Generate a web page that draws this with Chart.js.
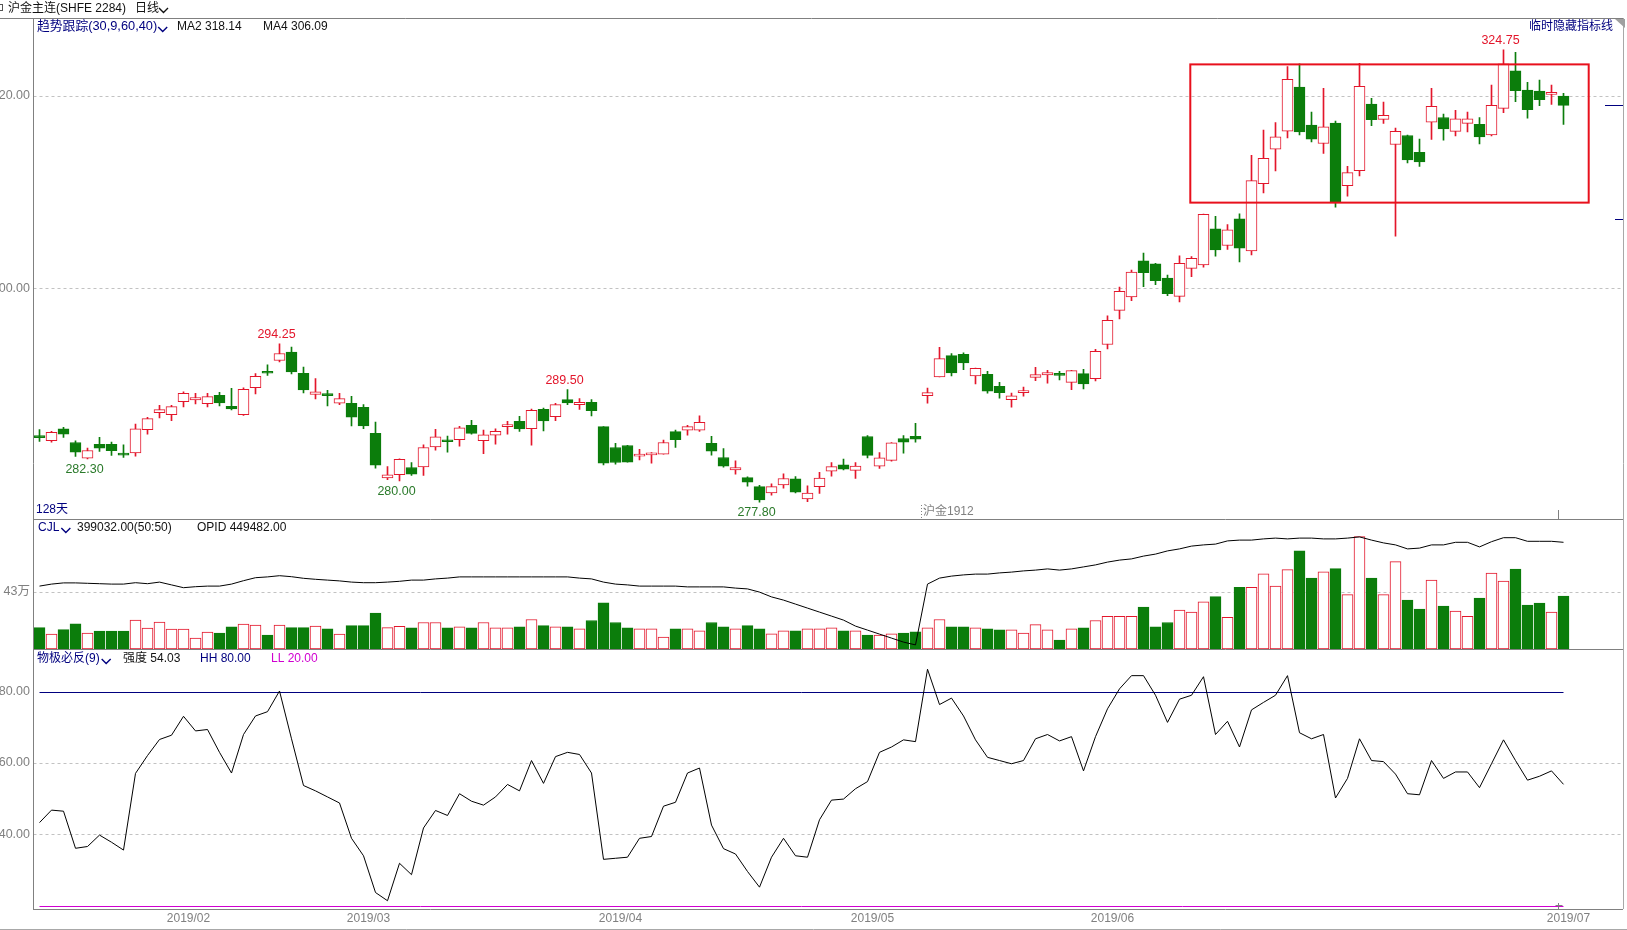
<!DOCTYPE html>
<html>
<head>
<meta charset="utf-8">
<title>沪金主连 日线</title>
<script src="https://cdn.jsdelivr.net/npm/chart.js@4.4.1/dist/chart.umd.min.js"></script>
<style>
  html, body { margin: 0; padding: 0; background: #fff; overflow: hidden; }
  #wrap { position: relative; width: 1627px; height: 930px; }
</style>
</head>
<body>
<div id="wrap"><canvas id="kline" width="1627" height="930"></canvas></div>
<script>
// 日线 OHLC, 128 根
var opens = [284.6,284.18,285.43,284.0,282.37,283.8,283.8,282.83,282.93,285.33,287.1,286.89,288.24,288.42,288.03,288.9,287.76,286.89,289.7,291.4,
  292.51,293.38,291.19,289.0,289.0,288.07,288.07,287.65,284.94,280.32,280.67,281.4,281.47,283.55,284.25,284.28,285.78,284.18,284.77,285.64,
  286.19,285.43,287.44,286.68,288.45,287.93,288.17,285.64,283.48,283.69,282.58,282.72,282.79,285.12,285.29,285.29,283.9,282.44,281.16,280.36,
  279.42,278.76,279.6,280.22,278.14,279.41,281.01,281.67,281.11,284.62,281.53,282.15,284.41,284.65,288.85,290.8,293.02,293.16,290.9,291.08,
  289.83,288.44,289.17,290.76,291.01,291.11,290.24,291.15,290.62,294.17,297.71,299.1,302.85,302.54,301.08,299.17,302.08,302.43,306.18,304.45,
  307.22,303.89,310.87,314.45,316.32,320.9,316.95,315.04,317.15,310.66,312.22,319.13,317.54,314.93,315.87,314.13,317.26,317.74,316.29,317.12,
  317.02,315.94,318.68,322.57,320.59,320.49,320.14,319.97];
var highs = [285.33,285.15,285.57,284.18,283.42,284.53,284.04,283.76,285.92,286.61,287.86,287.86,289.25,289.11,289.11,289.21,289.63,289.67,291.16,292.06,
  294.25,293.9,291.82,290.64,289.42,289.11,288.8,287.93,286.12,281.51,282.3,281.92,283.76,285.36,284.67,285.67,286.3,285.29,285.43,286.19,
  286.71,287.48,287.58,288.07,289.5,288.55,288.45,285.65,283.9,283.7,283.28,282.96,284.25,285.29,285.78,286.78,284.63,283.38,282.1,280.43,
  279.56,279.7,280.74,280.46,279.49,280.9,281.91,282.29,281.91,284.72,282.95,284.0,284.72,286.0,289.65,293.89,293.23,293.3,291.72,291.39,
  290.24,289.13,289.76,291.8,291.49,291.39,291.5,291.6,293.68,297.15,300.14,301.91,303.65,302.6,301.39,303.37,303.3,307.7,307.47,306.63,
  307.74,313.82,316.43,317.22,323.02,323.3,318.3,320.77,317.36,312.67,323.37,319.72,319.34,316.63,315.9,315.49,320.77,318.09,318.47,318.3,
  317.74,321.11,324.75,324.5,321.39,321.63,321.11,320.24];
var lows = [284.11,284.04,284.53,282.55,282.3,283.07,282.65,282.44,282.58,284.87,286.54,286.26,287.69,288.0,287.69,287.79,287.37,286.82,289.04,290.95,
  292.37,291.12,289.14,288.52,287.79,287.93,285.71,285.43,281.33,280.15,280.0,280.57,280.57,283.21,283.0,283.62,284.87,282.83,283.83,284.87,
  285.15,283.73,285.19,286.26,287.93,287.44,286.75,281.68,281.75,281.95,282.2,281.85,282.78,283.48,284.77,285.15,282.69,281.44,280.71,279.46,
  277.8,278.52,279.25,278.76,277.85,278.72,280.5,281.15,280.28,282.4,281.32,282.05,282.88,284.03,288.09,290.8,290.9,291.56,290.07,289.13,
  288.61,287.67,288.82,290.42,290.17,290.49,289.48,289.55,290.38,293.72,296.84,298.72,300.17,300.38,299.24,298.58,301.22,302.19,303.33,304.03,
  302.74,303.47,309.9,312.19,315.63,315.94,315.21,314.0,308.44,309.58,311.67,316.88,317.12,305.42,313.02,312.67,315.45,315.38,315.83,316.25,
  315.0,315.83,318.23,319.38,317.68,318.96,319.1,317.02];
var closes = [284.5,285.05,284.87,283.0,283.17,283.42,283.14,282.69,285.43,286.47,287.41,287.72,289.11,288.66,288.76,288.1,287.48,289.53,290.88,291.19,
  293.24,291.33,289.46,289.25,288.87,288.55,286.64,285.71,281.64,280.64,282.24,280.71,283.48,284.6,284.08,285.53,284.94,284.8,285.15,285.85,
  285.4,287.34,286.23,287.93,288.1,288.17,287.3,281.85,281.92,281.96,282.72,282.86,284.0,284.28,285.64,286.09,283.1,281.54,281.4,279.87,
  278.03,279.42,280.26,278.83,278.76,280.31,281.49,281.22,281.56,282.67,282.4,283.96,284.03,284.34,289.17,292.71,291.22,292.26,291.7,289.34,
  289.17,288.85,289.27,291.04,291.25,290.97,291.46,290.07,293.47,296.67,299.69,301.7,301.63,300.8,299.44,302.6,303.12,307.68,303.99,306.08,
  304.17,311.18,313.51,315.73,321.7,316.25,315.49,316.77,308.89,312.02,320.97,317.5,317.95,316.29,313.33,313.13,318.89,316.56,317.61,317.61,
  315.73,319.0,323.3,320.52,318.54,319.58,320.24,319.0];

// 成交量 CJL (万手)
var volumes = [16.1,11.3,14.6,19.1,12.1,13.6,13.6,13.6,21.9,15.8,20.4,15.1,15.1,8.3,12.8,12.1,16.8,18.9,18.1,10.6,
  18.1,16.1,16.1,17.4,15.3,11.3,17.6,17.6,27.2,16.1,17.1,16.0,20.0,20.0,16.0,16.8,16.0,20.0,16.0,16.0,
  16.8,22.3,17.6,16.8,16.8,15.3,21.5,34.8,20.0,16.0,15.3,15.3,9.0,15.3,15.3,13.7,20.0,16.8,15.3,17.6,
  15.3,11.4,13.7,13.7,15.3,15.3,16.0,13.7,13.7,10.6,10.6,11.4,12.1,12.9,16.0,22.3,16.8,16.8,16.0,15.3,
  14.5,14.5,12.1,18.4,14.5,6.7,15.3,16.0,21.5,24.7,24.7,24.7,31.7,16.8,20.0,29.4,27.8,35.6,39.5,23.9,
  46.6,46.6,56.8,47.4,59.9,74.0,53.6,58.3,60.7,41.1,84.9,53.6,41.1,65.9,37.0,30.2,52.1,32.4,28.7,24.6,
  38.5,57.3,51.3,60.4,33.2,34.7,27.9,39.9032];

// 持仓量 OPID (万手)
var openInterest = [34.0,34.5,34.8,34.8,34.7,34.6,34.5,34.5,34.85,34.6,35.0,34.3,33.6,33.85,34.0,34.0,34.5,35.35,36.1,36.3,
  36.6,36.35,35.95,35.7,35.5,35.3,35.0,34.85,34.85,35.0,35.2,35.5,35.5,35.8,36.0,36.3,36.3,36.3,36.3,36.3,
  36.3,36.3,36.3,36.3,36.3,36.0,35.8,35.0,34.5,34.3,34.0,34.0,34.0,34.0,33.8,33.8,33.8,33.8,33.5,33.3,
  32.5,31.3,30.5,29.5,28.5,27.5,26.5,25.5,24.0,23.0,22.0,21.0,20.0,19.3,34.5,36.0,36.5,36.8,37.0,37.0,
  37.3,37.5,37.8,38.0,38.3,38.0,38.3,38.8,39.3,40.0,40.5,40.8,41.5,42.0,42.8,43.3,44.0,44.3,44.5,45.3,
  45.5,45.5,45.8,46.0,45.8,46.0,46.0,45.8,45.8,46.0,46.3,45.5,44.8,44.3,43.3,43.5,44.3,44.3,44.95,44.95,
  43.8,45.1,46.1,46.1,45.2,45.2,45.2,44.9482];

// 物极必反(9) 强度
var strength = [43.3,46.8,46.5,36.1,36.6,39.8,37.8,35.6,57.1,62.1,66.6,67.8,73.1,69.0,69.4,63.0,57.2,68.0,73.2,74.4,
  80.2,66.8,53.7,52.2,50.5,48.8,38.9,34.0,23.7,21.4,31.9,28.7,41.8,46.7,45.3,51.4,49.3,48.2,50.5,54.0,
  52.2,60.7,54.3,61.8,63.0,62.4,57.2,33.0,33.3,33.6,38.9,39.4,47.9,49.0,57.2,58.6,42.6,36.0,34.5,29.6,
  25.2,33.6,38.9,34.0,33.6,44.1,49.6,49.9,52.8,54.8,63.0,64.5,66.5,66.0,86.3,76.4,78.2,73.2,66.5,61.6,
  60.7,59.8,60.7,66.8,68.0,66.2,67.4,57.8,67.4,75.2,80.8,84.5,84.5,79.0,71.4,77.9,79.0,84.2,68.0,71.7,
  64.5,74.9,77.0,79.0,84.5,68.5,66.8,68.0,50.2,55.7,66.8,60.7,60.4,56.9,51.4,51.1,60.7,55.7,57.5,57.5,
  53.1,59.8,66.5,60.7,55.2,56.3,57.8,54.03];

// 月份刻度
var monthIndex = [12, 27, 48, 69, 89, 127];
var monthLabels = ["2019/02", "2019/03", "2019/04", "2019/05", "2019/06", "2019/07"];

var priceTicks = [320, 300];
var volTicks = [43];
var oscTicks = [80, 60, 40];
var hhValue = 80, llValue = 20;

// 高低点标注
var extremeIndex = [20, 122, 44, 4, 30, 60];
var extremeIsHigh = [true, true, true, false, false, false];

// 红框区域
var boxIndex = [95.9, 129.1];
var boxPrice = [323.25, 308.9];

var RED = "#e3162b", GREEN = "#0b7d0b", NAVY = "#00007f", GRAY = "#808080", MAGENTA = "#d000d0";
var FONT = "'Liberation Sans', 'Noto Sans CJK SC', sans-serif";

// 面板分隔 (像素)
var PRICE_BOTTOM = 519, VOL_BOTTOM = 649;

var isUp = closes.map(function (c, i) { return c >= opens[i]; });
var lineColor = isUp.map(function (u) { return u ? RED : GREEN; });
var fillColor = isUp.map(function (u) { return u ? "#ffffff" : GREEN; });

var wickData = lows.map(function (l, i) { return { x: i, y: [l, highs[i]] }; });
var bodyData = opens.map(function (o, i) { return { x: i, y: [o, closes[i]] }; });
var volData = volumes.map(function (v, i) { return { x: i, y: v }; });
var oiData = openInterest.map(function (v, i) { return { x: i, y: v }; });
var oscData = strength.map(function (v, i) { return { x: i, y: v }; });

function txt(ctx, s, x, y, color, align) {
  ctx.fillStyle = color;
  ctx.textAlign = align || "left";
  ctx.fillText(s, x, y);
  return x + ctx.measureText(s).width;
}

function chevron(ctx, x, y, color) {
  ctx.save();
  ctx.strokeStyle = color;
  ctx.lineWidth = 1.4;
  ctx.beginPath();
  ctx.moveTo(x, y - 2);
  ctx.lineTo(x + 4.5, y + 2.5);
  ctx.lineTo(x + 9, y - 2);
  ctx.stroke();
  ctx.restore();
}

var panelPlugin = {
  id: "panels",
  beforeDraw: function (chart) {
    var ctx = chart.ctx;
    ctx.save();
    ctx.fillStyle = "#ffffff";
    ctx.fillRect(0, 0, chart.width, chart.height);
    ctx.restore();
  },
  beforeDatasetsDraw: function (chart) {
    var ctx = chart.ctx, a = chart.chartArea, s = chart.scales;
    ctx.save();
    ctx.strokeStyle = "#c2c2c2";
    ctx.lineWidth = 1;
    ctx.setLineDash([3, 3]);
    function hline(scale, v) {
      var y = Math.round(scale.getPixelForValue(v)) + 0.5;
      ctx.beginPath();
      ctx.moveTo(a.left, y);
      ctx.lineTo(a.right, y);
      ctx.stroke();
    }
    priceTicks.forEach(function (v) { hline(s.yPrice, v); });
    volTicks.forEach(function (v) { hline(s.yVol, v); });
    oscTicks.forEach(function (v) { if (v !== hhValue) hline(s.yOsc, v); });
    ctx.setLineDash([]);
    // HH / LL
    var x0 = s.x.getPixelForValue(0), x1 = s.x.getPixelForValue(closes.length - 1);
    [[hhValue, NAVY], [llValue, MAGENTA]].forEach(function (p) {
      var y = Math.round(s.yOsc.getPixelForValue(p[0])) + 0.5;
      ctx.strokeStyle = p[1];
      ctx.beginPath();
      ctx.moveTo(x0, y);
      ctx.lineTo(x1, y);
      ctx.stroke();
    });
    ctx.restore();
  },
  afterDatasetsDraw: function (chart) {
    var ctx = chart.ctx, a = chart.chartArea, s = chart.scales;
    var L = Math.floor(a.left), R = Math.floor(a.right);
    ctx.save();
    // 边框与分隔线
    ctx.strokeStyle = GRAY;
    ctx.lineWidth = 1;
    ctx.beginPath();
    ctx.moveTo(0, 18.5); ctx.lineTo(R, 18.5);
    ctx.moveTo(L + 0.5, 18); ctx.lineTo(L + 0.5, a.bottom);
    ctx.moveTo(L, PRICE_BOTTOM + 0.5); ctx.lineTo(R, PRICE_BOTTOM + 0.5);
    ctx.moveTo(L, VOL_BOTTOM + 0.5); ctx.lineTo(R, VOL_BOTTOM + 0.5);
    ctx.moveTo(L, a.bottom + 0.5); ctx.lineTo(R, a.bottom + 0.5);
    ctx.stroke();
    ctx.strokeStyle = "#a8a8a8";
    ctx.beginPath();
    ctx.moveTo(R + 0.5, 18); ctx.lineTo(R + 0.5, a.bottom);
    ctx.moveTo(0, 929.5); ctx.lineTo(chart.width, 929.5);
    ctx.stroke();
    ctx.fillStyle = "#a0a0a0";
    ctx.beginPath();
    ctx.moveTo(R - 8, 19); ctx.lineTo(R + 2, 19); ctx.lineTo(R + 2, 28);
    ctx.closePath();
    ctx.fill();

    // 光标竖线
    var xc = Math.round(s.x.getPixelForValue(closes.length - 1) - 6) + 0.5;
    ctx.strokeStyle = GRAY;
    ctx.beginPath();
    ctx.moveTo(xc, PRICE_BOTTOM - 9); ctx.lineTo(xc, PRICE_BOTTOM);
    ctx.moveTo(xc, a.bottom - 6); ctx.lineTo(xc, a.bottom);
    ctx.moveTo(xc - 3, a.bottom - 3.5); ctx.lineTo(xc + 4, a.bottom - 3.5);
    ctx.stroke();

    // 右侧价位标记
    ctx.strokeStyle = NAVY;
    var ym = Math.round(s.yPrice.getPixelForValue(closes[closes.length - 1])) + 0.5;
    ctx.beginPath(); ctx.moveTo(R - 18, ym); ctx.lineTo(R, ym); ctx.stroke();
    var ym2 = Math.round(s.yPrice.getPixelForValue(307.2)) + 0.5;
    ctx.beginPath(); ctx.moveTo(R - 8, ym2); ctx.lineTo(R, ym2); ctx.stroke();

    // 红框
    ctx.strokeStyle = "#e8101c";
    ctx.lineWidth = 2;
    var bx0 = s.x.getPixelForValue(boxIndex[0]), bx1 = s.x.getPixelForValue(boxIndex[1]);
    var by0 = s.yPrice.getPixelForValue(boxPrice[0]), by1 = s.yPrice.getPixelForValue(boxPrice[1]);
    ctx.strokeRect(bx0, by0, bx1 - bx0, by1 - by0);

    // 文字
    ctx.font = "12px " + FONT;
    ctx.textBaseline = "middle";
    ctx.strokeStyle = "#555";
    ctx.lineWidth = 1;
    ctx.strokeRect(-3.5, 4.5, 6, 6);
    txt(ctx, "沪金主连(SHFE 2284)", 8, 9, "#111");
    txt(ctx, "日线", 135, 9, "#111");
    chevron(ctx, 159, 10, "#111");

    ctx.font = "12.8px " + FONT;
    var endT = txt(ctx, "趋势跟踪(30,9,60,40)", 37, 26.5, NAVY);
    chevron(ctx, endT + 1, 29, NAVY);
    ctx.font = "12px " + FONT;
    txt(ctx, "MA2 318.14", 177, 26.5, "#111");
    txt(ctx, "MA4 306.09", 263, 26.5, "#111");
    txt(ctx, "临时隐藏指标线", 1613, 27, NAVY, "right");
    txt(ctx, closes.length + "天", 36, 509.5, NAVY);
    txt(ctx, "沪金1912", 923, 512, GRAY);
    ctx.strokeStyle = GRAY;
    ctx.setLineDash([1, 2]);
    ctx.beginPath(); ctx.moveTo(921.5, 505); ctx.lineTo(921.5, PRICE_BOTTOM); ctx.stroke();
    ctx.setLineDash([]);

    var endC = txt(ctx, "CJL", 38, 528, NAVY);
    chevron(ctx, endC + 2, 530, NAVY);
    txt(ctx, "399032.00(50:50)", 77, 528, "#111");
    txt(ctx, "OPID 449482.00", 197, 528, "#111");

    var endW = txt(ctx, "物极必反(9)", 37, 659, NAVY);
    chevron(ctx, endW + 2, 661, NAVY);
    txt(ctx, "强度 " + strength[strength.length - 1].toFixed(2), 123, 659, "#111");
    txt(ctx, "HH " + hhValue.toFixed(2), 200, 659, NAVY);
    txt(ctx, "LL " + llValue.toFixed(2), 271, 659, MAGENTA);

    // 左侧刻度
    ctx.font = "12.5px " + FONT;
    priceTicks.forEach(function (v) { txt(ctx, v.toFixed(2), 30, s.yPrice.getPixelForValue(v), GRAY, "right"); });
    volTicks.forEach(function (v) { txt(ctx, v + "万", 30, s.yVol.getPixelForValue(v), GRAY, "right"); });
    oscTicks.forEach(function (v) { txt(ctx, v.toFixed(2), 30, s.yOsc.getPixelForValue(v), GRAY, "right"); });

    // 日期
    ctx.font = "12px " + FONT;
    monthIndex.forEach(function (idx, k) {
      txt(ctx, monthLabels[k], s.x.getPixelForValue(idx) + 5, 919, GRAY, "center");
    });

    // 高低点
    ctx.font = "12.5px " + FONT;
    extremeIndex.forEach(function (idx, k) {
      var hi = extremeIsHigh[k];
      var v = hi ? highs[idx] : lows[idx];
      var x = s.x.getPixelForValue(idx) - 3;
      var y = s.yPrice.getPixelForValue(v);
      ctx.textBaseline = hi ? "bottom" : "top";
      txt(ctx, v.toFixed(2), x, hi ? y - 3 : y + 4, hi ? RED : "#2a7a2a", "center");
    });
    ctx.restore();
  }
};

var ctx = document.getElementById("kline").getContext("2d");
new Chart(ctx, {
  type: "bar",
  data: {
    datasets: [
      {
        type: "bar", label: "wick", data: wickData, yAxisID: "yPrice",
        backgroundColor: lineColor, borderWidth: 0, barThickness: 1, grouped: false, order: 3
      },
      {
        type: "bar", label: "body", data: bodyData, yAxisID: "yPrice",
        backgroundColor: fillColor, borderColor: lineColor, borderWidth: 1, borderSkipped: false,
        barThickness: 11, minBarLength: 2, grouped: false, order: 2
      },
      {
        type: "bar", label: "CJL", data: volData, yAxisID: "yVol",
        backgroundColor: fillColor, borderColor: lineColor, borderWidth: 1, borderSkipped: false,
        barThickness: 11, grouped: false, order: 2
      },
      {
        type: "line", label: "OPID", data: oiData, yAxisID: "yOI",
        borderColor: "#000", borderWidth: 1, pointRadius: 0, tension: 0, order: 1
      },
      {
        type: "line", label: "强度", data: oscData, yAxisID: "yOsc",
        borderColor: "#000", borderWidth: 1, pointRadius: 0, tension: 0, order: 1
      }
    ]
  },
  options: {
    responsive: false,
    animation: false,
    devicePixelRatio: 1,
    layout: { padding: { left: 33.5, top: 18, right: 3.5, bottom: 21 } },
    plugins: { legend: { display: false }, tooltip: { enabled: false } },
    scales: {
      x: { type: "linear", min: -0.5, max: 132, offset: false, display: false },
      yPrice: { type: "linear", min: 235.572, max: 328.066, display: false },
      yVol: { type: "linear", min: -196.1, max: 476.0, display: false },
      yOI: { type: "linear", min: -46.725, max: 176.025, display: false },
      yOsc: { type: "linear", min: 19.08, max: 268.87, display: false }
    }
  },
  plugins: [panelPlugin]
});
</script>
</body>
</html>
